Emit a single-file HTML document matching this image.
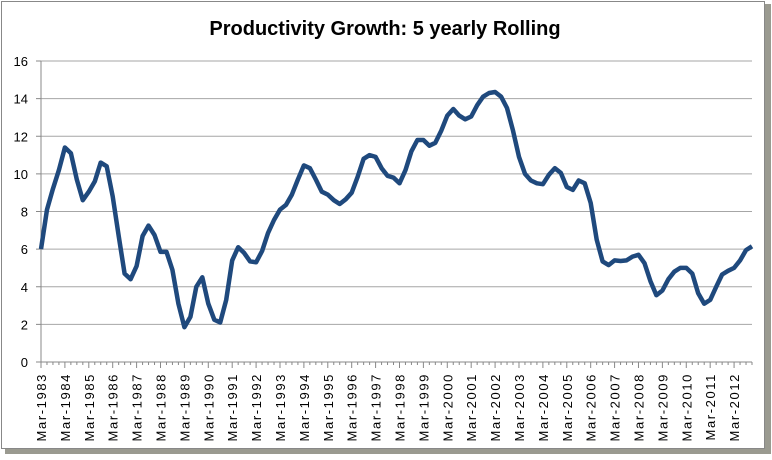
<!DOCTYPE html>
<html><head><meta charset="utf-8"><style>
body{margin:0;background:#fff;font-family:"Liberation Sans",sans-serif;}
</style></head><body>
<svg width="772" height="455" xmlns="http://www.w3.org/2000/svg">
<rect x="5" y="4" width="766" height="450" fill="#9a9a90"/>
<rect x="1.5" y="1.5" width="763" height="447" fill="#fff" stroke="#888" stroke-width="1"/>
<text x="385" y="35" text-anchor="middle" font-size="20" font-weight="bold" fill="#000">Productivity Growth: 5 yearly Rolling</text>
<g id="grid"></g><g id="yl"></g><g id="xl"></g>
<path id="line" fill="none" stroke="#1f497d" stroke-width="4.5" stroke-linejoin="round"/>
</svg>
<script>
const yTicks=[0,2,4,6,8,10,12,14,16];
const years=[1983,1984,1985,1986,1987,1988,1989,1990,1991,1992,1993,1994,1995,1996,1997,1998,1999,2000,2001,2002,2003,2004,2005,2006,2007,2008,2009,2010,2011,2012];
const values=[6.0,8.1,9.2,10.2,11.4,11.1,9.7,8.6,9.05,9.6,10.6,10.4,8.8,6.7,4.7,4.4,5.1,6.7,7.25,6.75,5.85,5.85,4.9,3.1,1.85,2.4,4.0,4.5,3.1,2.25,2.1,3.3,5.4,6.1,5.8,5.35,5.3,5.9,6.85,7.55,8.1,8.35,8.9,9.7,10.45,10.3,9.7,9.05,8.9,8.6,8.4,8.65,9.0,9.85,10.8,11.0,10.9,10.3,9.9,9.8,9.5,10.2,11.2,11.8,11.8,11.5,11.65,12.3,13.1,13.45,13.1,12.9,13.05,13.65,14.1,14.3,14.35,14.1,13.5,12.3,10.9,10.0,9.65,9.5,9.45,9.95,10.3,10.05,9.3,9.15,9.65,9.5,8.45,6.5,5.35,5.15,5.4,5.37,5.4,5.6,5.7,5.25,4.3,3.55,3.8,4.4,4.8,5.0,5.0,4.7,3.65,3.1,3.3,4.0,4.65,4.85,5.0,5.4,5.95,6.15];
const NS="http://www.w3.org/2000/svg";
const x0=41,x1=752,y0=362,y1=61;
const yS=v=>y0-(v/16)*(y0-y1);
const nTicks=120;
const xS=i=>x0+i*(x1-x0)/(nTicks-1);
function mk(t,a,p){const e=document.createElementNS(NS,t);for(const k in a)e.setAttribute(k,a[k]);p.appendChild(e);return e;}
const g=document.getElementById('grid'),yl=document.getElementById('yl'),xl=document.getElementById('xl');
yTicks.forEach(v=>{
 const l=mk('line',{x1:x0,x2:x1,y1:yS(v),y2:yS(v),stroke:'#a6a6a6','stroke-width':1},g);
 
 
 const tk=mk('line',{x1:x0-5,x2:x0,y1:yS(v),y2:yS(v),stroke:'#888'},g);
 
 
 const t=mk('text',{x:28,y:yS(v)+5,'text-anchor':'end','font-size':13,fill:'#000'},yl);
 t.textContent=v;
 
 
});
const ax=mk('line',{x1:x0,x2:x0,y1:y1,y2:y0,stroke:'#888'},g);


const xa=mk('line',{x1:x0,x2:x1,y1:y0,y2:y0,stroke:'#888'},g);


for(let i=0;i<nTicks;i++){
 const big=i%4===0;
 const tk=mk('line',{x1:xS(i),x2:xS(i),y1:y0,y2:y0+(big?6:3),stroke:'#888'},g);
 
 
}
years.forEach((yr,k)=>{
 const x=xS(k*4)+5;
 const t=mk('text',{x:0,y:0,transform:`translate(${x},373) rotate(-90)`,'text-anchor':'end','font-size':13,'letter-spacing':'1.6',fill:'#000'},xl);
 t.textContent='Mar-'+yr;
 
 
});
document.getElementById('line').setAttribute('d',values.map((v,i)=>(i?'L':'M')+xS(i).toFixed(1)+','+yS(v).toFixed(1)).join(''));
</script>
</body></html>
